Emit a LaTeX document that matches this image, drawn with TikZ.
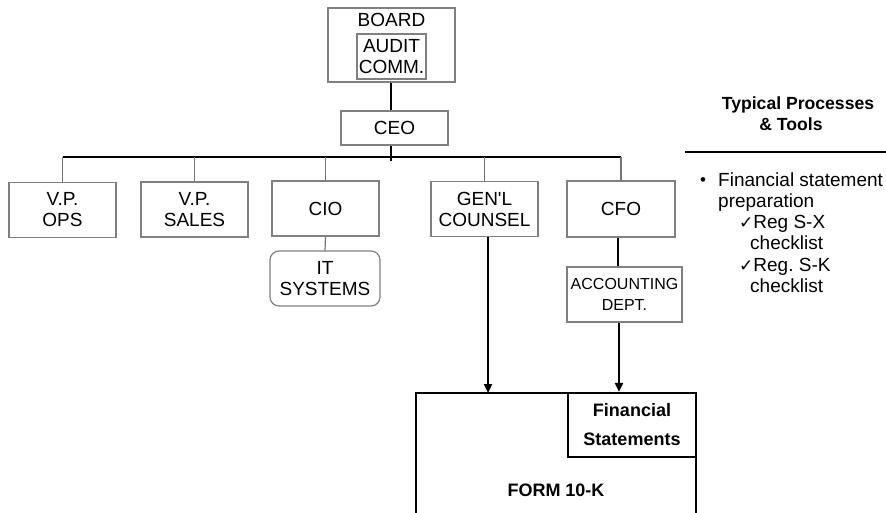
\documentclass[tikz,border=0pt]{standalone}
\usepackage{fontspec}
\setmainfont{Liberation Sans}
\newfontfamily\symfont{DejaVu Sans}
\usetikzlibrary{arrows.meta}
\begin{document}
\frenchspacing
\begin{tikzpicture}[x=1pt,y=-1pt,
  orgbox/.style={draw=black!50,line width=1.2pt,rectangle,inner sep=0pt,align=center,
    minimum width=107pt,minimum height=55pt,font=\fontsize{19}{21}\selectfont},
  rbox/.style={orgbox,rounded corners=9pt,minimum width=110pt},
  link/.style={draw=black!55,line width=1.2pt},
  trunk/.style={draw=black,line width=1.2pt},
  heavy/.style={draw=black,line width=2.2pt},
  flow/.style={heavy,-{Triangle[length=9pt,width=8pt]}},
  bold/.style={font=\bfseries\fontsize{18}{29}\selectfont,align=center},
  side/.style={font=\fontsize{19}{21}\selectfont,anchor=base west,inner sep=0pt}]
\useasboundingbox (0,0) rectangle (886,512);

% board and audit committee
\node[orgbox,minimum width=127pt,minimum height=74pt] (board) at (391.5,45) {};
\node[font=\fontsize{19}{21}\selectfont,inner sep=0pt] (boardlbl) at (391.5,20) {BOARD};
\node[orgbox,minimum width=69pt,minimum height=45pt] (audit) at (391.5,56.5) {AUDIT\\COMM.};

% chief executive
\node[orgbox,minimum height=34pt] (ceo) at (394.5,128) {CEO};

% direct reports
\node[orgbox] (ops) at (62.5,210) {V.P.\\OPS};
\node[orgbox] (sales) at (194.5,209.5) {V.P.\\SALES};
\node[orgbox] (cio) at (325.5,208.5) {CIO};
\node[orgbox] (gc) at (484.5,209) {GEN\textquotesingle L\\COUNSEL};
\node[orgbox,minimum width=108pt,minimum height=56pt] (cfo) at (621,209) {CFO};
\node[rbox] (it) at (325,278.5) {IT\\SYSTEMS};
\node[orgbox,minimum width=115pt,font=\fontsize{16}{21}\selectfont] (acct) at (624.5,294.5) {ACCOUNTING\\DEPT.};

% form 10-K with financial statements
\draw[heavy] (416,520) |- (696,393) -- (696,520);
\coordinate (formtop) at (556,393);
\node[draw=black,line width=2.2pt,inner sep=0pt,minimum width=128pt,minimum height=64pt,
  bold] (fs) at (632,425) {Financial\\Statements};
\node[bold,inner sep=0pt] (form) at (556,490) {FORM 10-K};

% reporting lines
\draw[trunk] (board.south -| 391,0) -- (ceo.north -| 391,0);
\coordinate (bus) at (391,157);
\draw[trunk] (ceo.south -| 391,0) -- (391,161);
\draw[trunk] (ops.north |- bus) -- (cfo.north |- bus);
\foreach \n in {ops,sales,cio,gc,cfo} \draw[link] (\n.north |- bus) -- (\n.north);
\draw[link] (cio.south) -- (it.north);

% information flow into the filing
\draw[flow] ([xshift=3.5pt]gc.south) -- ([xshift=3.5pt]gc.south |- formtop);
\draw[heavy] ([xshift=-3pt]cfo.south) -- ([xshift=-3pt]cfo.south |- acct.north);
\draw[flow] ([xshift=-2pt]cfo.south |- acct.south) -- ([xshift=-2pt]cfo.south |- fs.north);

% processes and tools
\node[font=\bfseries\fontsize{17.6}{21}\selectfont,align=center,inner sep=0pt] (title) at (798,114) {Typical Processes\\\hspace*{-14pt}\& Tools};
\draw[heavy] (685,152) -- (886,152);
\node[font=\fontsize{17}{17}\selectfont,inner sep=0pt] (bullet) at (703,182) {•};
\node[side] (l1) at (718,186) {Financial statement};
\node[side] (l2) at (718,207) {preparation};
\node[side] (l3) at (739,228) {{\symfont\fontsize{17}{17}\selectfont ✓}Reg S-X};
\node[side] (l4) at (750,249) {checklist};
\node[side] (l5) at (739,271) {{\symfont\fontsize{17}{17}\selectfont ✓}Reg. S-K};
\node[side] (l6) at (750,292) {checklist};
\end{tikzpicture}
\end{document}
